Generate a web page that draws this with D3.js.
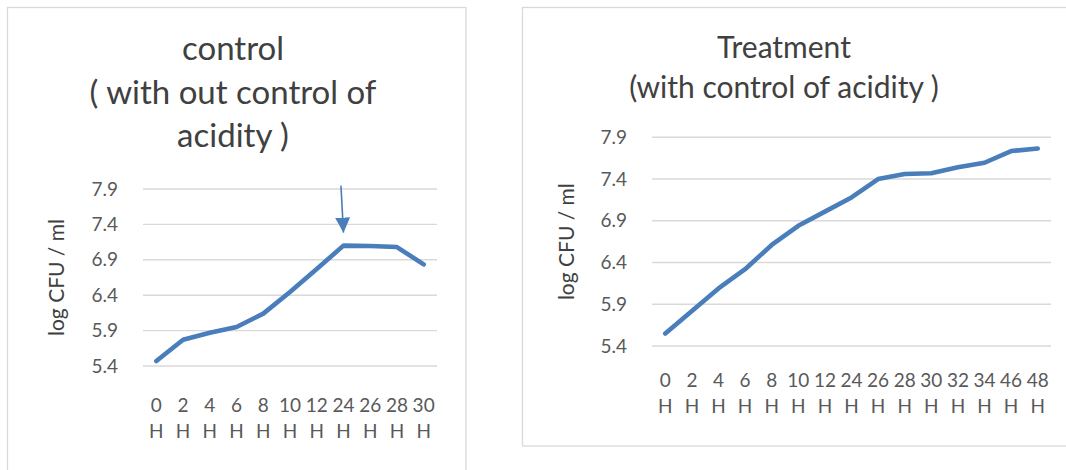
<!DOCTYPE html>
<html>
<head>
<meta charset="UTF-8">
<script src="https://d3js.org/d3.v7.min.js"></script>
<style>
  body { margin: 0; background: #fff; }
  text { font-family: Lato, "Open Sans", sans-serif; }
  .grid line { stroke: #d9d9d9; stroke-width: 1.4; }
  .tick-y, .tick-x { fill: #595959; font-size: 19px; }
  .title { fill: #404040; }
  .ylab { fill: #404040; font-size: 21px; }
</style>
</head>
<body>
<svg id="chart" width="1066" height="470"></svg>
<script>
// ---- data ----
var yTicks = [5.4, 5.9, 6.4, 6.9, 7.4, 7.9];

var controlHours = ["0", "2", "4", "6", "8", "10", "12", "24", "26", "28", "30"];
var controlValues = [5.47, 5.77, 5.87, 5.95, 6.14, 6.445, 6.77, 7.10, 7.095, 7.08, 6.835];
var controlTitle = ["control", "( with out control of", "acidity )"];

var treatHours = ["0", "2", "4", "6", "8", "10", "12", "24", "26", "28", "30", "32", "34", "46", "48"];
var treatValues = [5.55, 5.82, 6.09, 6.32, 6.61, 6.84, 7.01, 7.18, 7.40, 7.46, 7.47, 7.54, 7.595, 7.735, 7.765];
var treatTitle = ["Treatment", "(with control of acidity )"];

var yLabel = "log CFU / ml";
var lineColor = "#4a7ebb";

var svg = d3.select("#chart");

// panel frames
svg.append("rect").attr("x", 7.5).attr("y", 7.5).attr("width", 458.5).attr("height", 480)
  .attr("fill", "none").attr("stroke", "#d9d9d9").attr("stroke-width", 1.3);
svg.append("rect").attr("x", 522.5).attr("y", 7.5).attr("width", 560).attr("height", 438.5)
  .attr("fill", "none").attr("stroke", "#d9d9d9").attr("stroke-width", 1.3);

function drawPanel(opt) {
  var g = svg.append("g");

  var x = d3.scaleBand().domain(opt.hours).range([opt.left, opt.right]);
  var y = d3.scaleLinear().domain([5.4, 7.9]).range([opt.bottom, opt.top]);

  // gridlines
  g.append("g").attr("class", "grid").selectAll("line")
    .data(yTicks).enter().append("line")
    .attr("x1", opt.left).attr("x2", opt.right)
    .attr("y1", function(d) { return y(d); }).attr("y2", function(d) { return y(d); });

  // y tick labels
  g.selectAll(".tick-y").data(yTicks).enter().append("text")
    .attr("class", "tick-y")
    .attr("x", opt.left - 25)
    .attr("y", function(d) { return y(d); })
    .attr("dy", "0.35em")
    .attr("text-anchor", "end")
    .text(function(d) { return d.toFixed(1); });

  // x tick labels (two lines: number, then H)
  var xt = g.selectAll(".tick-x").data(opt.hours).enter().append("g");
  xt.append("text").attr("class", "tick-x")
    .attr("x", function(d) { return x(d) + x.bandwidth() / 2; })
    .attr("y", opt.xLab1).attr("text-anchor", "middle")
    .text(function(d) { return d; });
  xt.append("text").attr("class", "tick-x")
    .attr("x", function(d) { return x(d) + x.bandwidth() / 2; })
    .attr("y", opt.xLab2).attr("text-anchor", "middle")
    .text("H");

  // line
  var line = d3.line()
    .x(function(d, i) { return x(opt.hours[i]) + x.bandwidth() / 2; })
    .y(function(d) { return y(d); });
  g.append("path").attr("d", line(opt.values))
    .attr("fill", "none").attr("stroke", lineColor)
    .attr("stroke-width", 4.6).attr("stroke-linejoin", "round").attr("stroke-linecap", "round");

  // y axis title
  g.append("text").attr("class", "ylab")
    .attr("transform", "translate(" + opt.yLabX + "," + ((opt.top + opt.bottom) / 2) + ") rotate(-90)")
    .attr("text-anchor", "middle")
    .text(yLabel);

  // chart title
  g.selectAll(".title").data(opt.title).enter().append("text")
    .attr("class", "title")
    .attr("x", opt.titleX)
    .attr("y", function(d, i) { return opt.titleY + i * opt.titleStep; })
    .attr("text-anchor", "middle")
    .style("font-size", opt.titleSize + "px")
    .text(function(d) { return d; });

  return { x: x, y: y };
}

var left = drawPanel({
  hours: controlHours, values: controlValues, title: controlTitle,
  left: 143, right: 437, top: 189, bottom: 366,
  xLab1: 412, xLab2: 438, yLabX: 64,
  titleX: 233, titleY: 60, titleStep: 43.5, titleSize: 33
});

drawPanel({
  hours: treatHours, values: treatValues, title: treatTitle,
  left: 652, right: 1051, top: 137.3, bottom: 346,
  xLab1: 387, xLab2: 413, yLabX: 574,
  titleX: 784, titleY: 58, titleStep: 40, titleSize: 30
});

// arrow pointing at the 24 H peak of the control curve
var peakX = left.x("24") + left.x.bandwidth() / 2;
var peakY = left.y(controlValues[controlHours.indexOf("24")]);
svg.append("defs").append("marker")
  .attr("id", "ah").attr("viewBox", "0 0 10 10").attr("refX", 10).attr("refY", 5)
  .attr("markerUnits", "userSpaceOnUse").attr("markerWidth", 15).attr("markerHeight", 15)
  .attr("orient", "auto")
  .append("path").attr("d", "M0,0 L10,5 L0,10 Z").attr("fill", lineColor);
svg.append("line")
  .attr("x1", peakX - 2.5).attr("y1", peakY - 60)
  .attr("x2", peakX).attr("y2", peakY - 13)
  .attr("stroke", lineColor).attr("stroke-width", 1.6)
  .attr("marker-end", "url(#ah)");
</script>
</body>
</html>
